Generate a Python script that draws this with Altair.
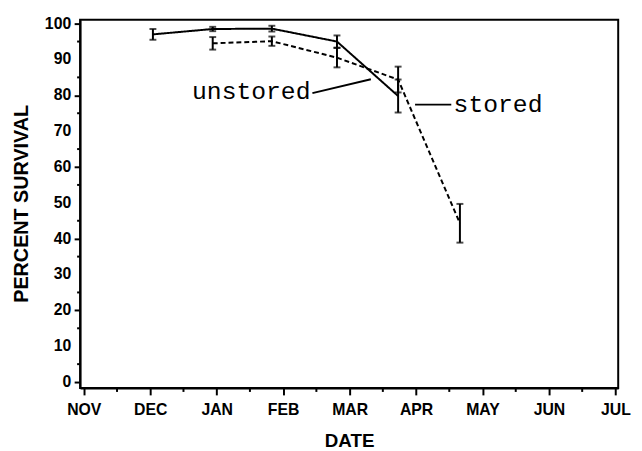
import altair as alt
import pandas as pd

# ---- data (month index: NOV = 0 ... JUL = 8) ----
month_names = ["NOV", "DEC", "JAN", "FEB", "MAR", "APR", "MAY", "JUN", "JUL"]

stored_month = [1.04, 1.94, 2.83, 3.81, 4.73]
stored_value = [97.0, 98.5, 98.6, 95.0, 79.8]
stored_err = [1.5, 0.6, 0.8, 1.7, 4.6]

unstored_month = [1.94, 2.83, 3.81, 4.73, 5.66]
unstored_value = [94.5, 95.1, 90.5, 84.4, 44.3]
unstored_err = [1.75, 1.3, 2.7, 3.6, 5.4]

label_text = ["unstored", "stored"]
label_month = [2.52, 5.565]
label_value = [79.0, 75.4]

pointer_month = [3.44, 4.985]
pointer_month2 = [4.32, 5.53]
pointer_value = [80.6, 77.4]
pointer_value2 = [84.5, 77.4]

y_major = list(range(0, 101, 10))
y_minor = list(range(5, 100, 10))
x_major = list(range(0, 9))
x_minor = [m + 0.5 for m in range(8)]

# ---- tables ----
rows = []
for m, v, e in zip(stored_month, stored_value, stored_err):
    rows.append({"month": m, "value": v, "err": e, "series": "stored"})
for m, v, e in zip(unstored_month, unstored_value, unstored_err):
    rows.append({"month": m, "value": v, "err": e, "series": "unstored"})
df = pd.DataFrame(rows)
df["lo"] = df["value"] - df["err"]
df["hi"] = df["value"] + df["err"]

labels = pd.DataFrame({"text": label_text, "month": label_month, "value": label_value})
pointers = pd.DataFrame({"m1": pointer_month, "m2": pointer_month2,
                         "v1": pointer_value, "v2": pointer_value2})
ylab = pd.DataFrame({"v": y_major, "t": [str(v) for v in y_major]})

W, H = 545, 373
xscale = alt.Scale(domain=[-0.056, 8.042], nice=False, zero=False)
yscale = alt.Scale(domain=[-1.65, 101.1], nice=False, zero=False)

month_expr = str(month_names) + "[datum.value]"

x_axis = alt.Axis(
    title="DATE", values=x_major, labelExpr=month_expr,
    tickSize=7, tickWidth=2, tickColor="black", domainColor="black", domainWidth=2,
    labelFont="Liberation Sans", labelFontWeight="bold", labelFontSize=16,
    labelColor="black", labelPadding=7, labelFlush=False, labelOverlap=False,
    titleFont="Liberation Sans", titleFontWeight="bold", titleFontSize=19,
    titleColor="black", titleY=53, titleBaseline="middle", grid=False,
)
y_axis = alt.Axis(
    title="PERCENT SURVIVAL", values=y_major, labels=False,
    tickSize=6, tickWidth=2, tickColor="black", domainColor="black", domainWidth=2,
    titleFont="Liberation Sans", titleFontWeight="bold", titleFontSize=20,
    titleColor="black", titleX=-59, titleY=186, titleAngle=-90,
    titleAlign="center", titleBaseline="middle", grid=False,
)

base = alt.Chart(df)

lines = base.mark_line(color="black", strokeWidth=2).encode(
    x=alt.X("month:Q", scale=xscale, axis=x_axis),
    y=alt.Y("value:Q", scale=yscale, axis=y_axis),
    strokeDash=alt.StrokeDash("series:N",
                              scale=alt.Scale(domain=["stored", "unstored"],
                                              range=[[1, 0], [5, 3]]),
                              legend=None),
    detail="series:N",
)

bars = base.mark_rule(color="black", strokeWidth=2).encode(
    x="month:Q", y="lo:Q", y2="hi:Q",
)
cap_lo = base.mark_tick(color="black", orient="horizontal", size=7, thickness=2).encode(
    x="month:Q", y="lo:Q",
)
cap_hi = base.mark_tick(color="black", orient="horizontal", size=7, thickness=2).encode(
    x="month:Q", y="hi:Q",
)

text_unstored = alt.Chart(labels[labels["text"] == "unstored"]).mark_text(
    font="Liberation Mono", fontSize=25, color="black", baseline="alphabetic", align="center"
).encode(x="month:Q", y="value:Q", text="text:N")
text_stored = alt.Chart(labels[labels["text"] == "stored"]).mark_text(
    font="Liberation Mono", fontSize=25, color="black", baseline="alphabetic", align="left"
).encode(x="month:Q", y="value:Q", text="text:N")

pointer_layer = alt.Chart(pointers).mark_rule(color="black", strokeWidth=2).encode(
    x="m1:Q", x2="m2:Q", y="v1:Q", y2="v2:Q",
)

# minor ticks on the axes
y_minor_ticks = alt.Chart(pd.DataFrame({"v": y_minor})).mark_rule(
    color="black", strokeWidth=2
).encode(y="v:Q", x=alt.value(-3), x2=alt.value(0))
x_minor_ticks = alt.Chart(pd.DataFrame({"m": x_minor})).mark_rule(
    color="black", strokeWidth=2
).encode(x="m:Q", y=alt.value(H), y2=alt.value(H + 4))

# y tick labels
y_labels = alt.Chart(ylab).mark_text(
    font="Liberation Sans", fontWeight="bold", fontSize=16, color="black",
    align="right", baseline="middle"
).encode(y="v:Q", x=alt.value(-9), text="t:N")

chart = alt.layer(
    lines, bars, cap_lo, cap_hi, pointer_layer, text_unstored, text_stored,
    y_minor_ticks, x_minor_ticks, y_labels,
).properties(
    width=W, height=H,
    autosize=alt.AutoSizeParams(type="none"),
    padding={"left": 73, "top": 9, "right": 16, "bottom": 61},
    background="white",
).configure_view(stroke="black", strokeWidth=2)

chart.save("out.html", embed_options={"renderer": "svg", "actions": False})
